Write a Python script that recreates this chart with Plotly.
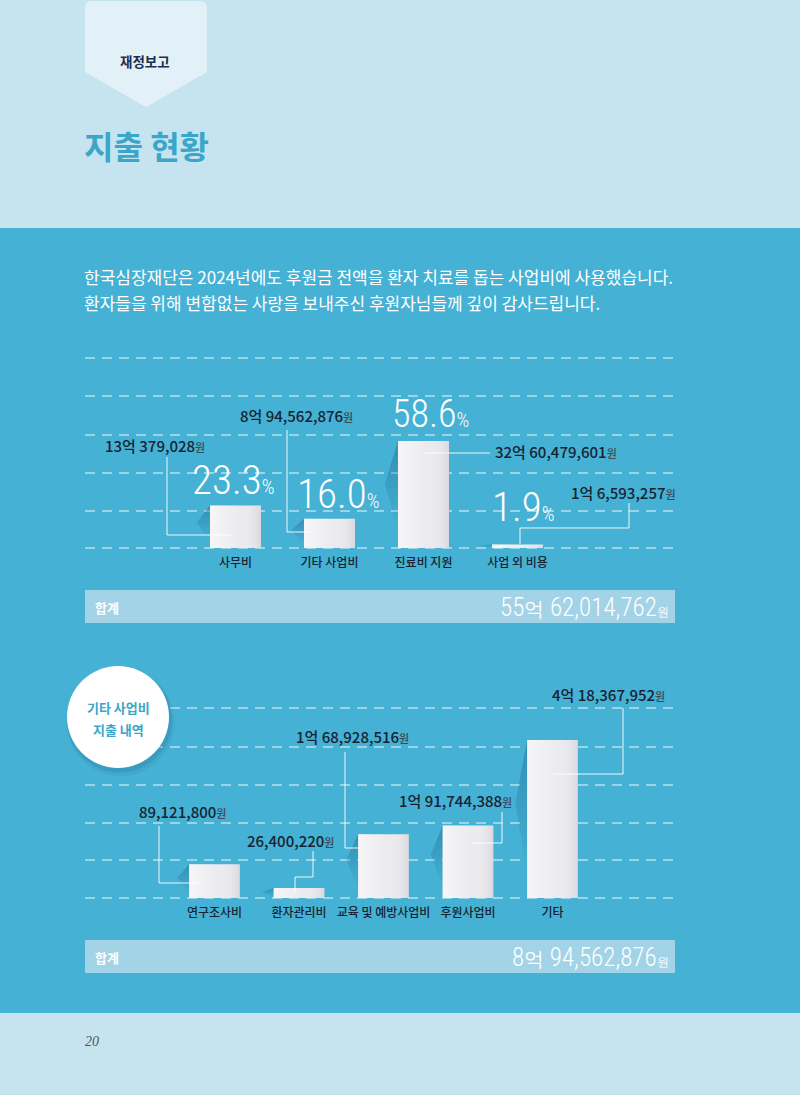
import plotly.graph_objects as go

W, H = 800, 1095


def X(px):
    return px / W


def Y(py):
    return 1 - py / H


# ---------------- data ----------------
section_tag = "재정보고"
title_text = "지출 현황"
intro_lines = [
    "한국심장재단은 2024년에도 후원금 전액을 환자 치료를 돕는 사업비에 사용했습니다.",
    "환자들을 위해 변함없는 사랑을 보내주신 후원자님들께 깊이 감사드립니다.",
]

cats1 = ["사무비", "기타 사업비", "진료비 지원", "사업 외 비용"]
pct1 = [23.3, 16.0, 58.6, 1.9]
won1 = [1300379028, 894562876, 3260479601, 106593257]

cats2 = ["연구조사비", "환자관리비", "교육 및 예방사업비", "후원사업비", "기타"]
won2 = [89121800, 26400220, 168928516, 191744388, 418367952]

total_label = "합계"
circle_lines = ["기타 사업비", "지출 내역"]
page_no = "20"

# ---------------- style ----------------
BLUE = "#45b1d4"
LIGHT = "#c6e3f0"
TAB = "#e2f1f8"
TOTAL = "#a3d3e6"
TEAL = "#3aa6c9"
DARK = "#172331"
BAR = "#ebebef"
KR = "Noto Sans CJK KR"
NARROW = "Roboto Condensed, Roboto, sans-serif"


def fmt_won(v):
    eok, rest = divmod(v, 10 ** 8)
    return f"{eok}억 {rest:,}" if eok else f"{rest:,}"


def won_label(v):
    return f"{fmt_won(v)}<span style='font-size:11px;color:#3b4a58'>원</span>"


fig = go.Figure()

BW1, BW2 = 0.543, 0.6


def add_bars(vals, bw, xa, ya):
    xs = list(range(len(vals)))
    # soft shadows on the left of each bar
    for i, v in zip(xs, vals):
        left = i - bw / 2
        k = 0.14
        fig.add_trace(go.Scatter(
            x=[left, left - k, left, left], y=[v, v * 0.6, v * 0.15, v],
            fill="toself", mode="lines", line=dict(width=0),
            fillcolor="rgba(25,95,135,0.25)",
            fillgradient=dict(type="vertical",
                              colorscale=[[0, "rgba(25,95,135,0)"], [1, "rgba(25,95,135,0.42)"]]),
            xaxis=xa, yaxis=ya, hoverinfo="skip", showlegend=False))
    fig.add_trace(go.Bar(x=xs, y=vals, width=bw, xaxis=xa, yaxis=ya,
                         marker=dict(color=BAR, line=dict(width=0)),
                         hoverinfo="skip", showlegend=False))
    # light horizontal sheen over each bar
    for i, v in zip(xs, vals):
        l, r = i - bw / 2, i + bw / 2
        fig.add_trace(go.Scatter(
            x=[l, r, r, l, l], y=[0, 0, v, v, 0],
            fill="toself", mode="lines", line=dict(width=0),
            fillcolor="rgba(255,255,255,0.2)",
            fillgradient=dict(type="horizontal",
                              colorscale=[[0, "rgba(255,255,255,0.55)"], [0.6, "rgba(255,255,255,0)"],
                                          [1, "rgba(150,150,165,0.22)"]]),
            xaxis=xa, yaxis=ya, hoverinfo="skip", showlegend=False))


add_bars(pct1, BW1, "x", "y")
add_bars(won2, BW2, "x2", "y2")

total1 = sum(won1)
total2 = sum(won2)

shapes = []
# backgrounds
shapes.append(dict(type="rect", xref="paper", yref="paper", x0=0, x1=1, y0=Y(228), y1=1,
                   fillcolor=LIGHT, line=dict(width=0), layer="below"))
shapes.append(dict(type="rect", xref="paper", yref="paper", x0=0, x1=1, y0=0, y1=Y(1013),
                   fillcolor=LIGHT, line=dict(width=0), layer="below"))


def P(pts):
    return "M " + " L ".join(f"{X(a):.5f},{Y(b):.5f}" for a, b in pts)


tab_path = (f"M {X(85):.5f},{Y(72):.5f} L {X(85):.5f},{Y(8):.5f} Q {X(85):.5f},{Y(1):.5f} {X(92):.5f},{Y(1):.5f} "
            f"L {X(200):.5f},{Y(1):.5f} Q {X(207):.5f},{Y(1):.5f} {X(207):.5f},{Y(8):.5f} "
            f"L {X(207):.5f},{Y(72):.5f} L {X(148):.5f},{Y(106):.5f} Q {X(146):.5f},{Y(108):.5f} {X(144):.5f},{Y(106):.5f} Z")
shapes.append(dict(type="path", xref="paper", yref="paper", path=tab_path,
                   fillcolor=TAB, line=dict(width=0), layer="below"))

# dashed guide lines
for gy in [358, 396, 435, 473, 511, 548, 708, 747, 785, 823, 860, 898]:
    shapes.append(dict(type="line", xref="paper", yref="paper", x0=X(85), x1=X(675), y0=Y(gy), y1=Y(gy),
                       line=dict(color="rgba(255,255,255,0.6)", width=1.5, dash="10px,7px"), layer="below"))

# totals boxes
for t0, t1 in [(590, 623), (940, 973)]:
    shapes.append(dict(type="rect", xref="paper", yref="paper", x0=X(85), x1=X(675), y0=Y(t1), y1=Y(t0),
                       fillcolor=TOTAL, line=dict(width=0), layer="below"))

# circle badge with soft shadow
for off, r, a in [(5, 54, 0.06), (3, 52.5, 0.10)]:
    shapes.append(dict(type="circle", xref="paper", yref="paper",
                       x0=X(118 + off / 2 - r), x1=X(118 + off / 2 + r), y0=Y(717 + off + r), y1=Y(717 + off - r),
                       fillcolor=f"rgba(0,50,80,{a})", line=dict(width=0)))
shapes.append(dict(type="circle", xref="paper", yref="paper", x0=X(67), x1=X(169), y0=Y(768), y1=Y(666),
                   fillcolor="white", line=dict(width=0)))

# leader lines
leaders = [
    [(167, 457), (167, 535), (232, 535)],
    [(287, 430), (287, 532), (310, 532)],
    [(425, 453), (490, 453)],
    [(629, 503), (629, 528), (520, 528), (520, 544)],
    [(159, 826), (159, 883), (200, 883)],
    [(313, 851), (313, 877), (295, 877), (295, 893)],
    [(345, 752), (345, 848), (365, 848)],
    [(502, 812), (502, 843), (472, 843)],
    [(623, 708), (623, 774), (553, 774)],
]
for pts in leaders:
    shapes.append(dict(type="path", xref="paper", yref="paper", path=P(pts),
                       line=dict(color="rgba(255,255,255,0.9)", width=1)))

ann = []


def A(text, x, y, size, color, family=KR, xanchor="left", weight=None, style=None):
    font = dict(family=family, size=size, color=color)
    if weight:
        font["weight"] = weight
    if style:
        font["style"] = style
    ann.append(dict(text=text, x=X(x), y=Y(y), xref="paper", yref="paper", showarrow=False,
                    xanchor=xanchor, yanchor="middle", font=font, borderpad=0))


A(section_tag, 145, 61, 13.5, "#1e2c4f", xanchor="center", weight=700)
A(title_text, 83, 145, 32, TEAL, weight=700)
A(intro_lines[0], 83, 276, 17, "white")
A(intro_lines[1], 83, 303, 17, "white")

# chart 1 labels
amt_pos1 = [(104, 446), (239, 415), (494, 452), (570, 493)]
pct_pos1 = [(191, 480), (296, 494), (391, 414), (491, 507)]
pct_size1 = [41, 41, 38, 41]
for v, p, (ax_, ay_), (px_, py_), s in zip(won1, pct1, amt_pos1, pct_pos1, pct_size1):
    A(won_label(v), ax_, ay_, 15, DARK, weight=500)
    A(f"{p:.1f}<span style='font-size:20px'>%</span>", px_, py_, s, "white", family=NARROW, weight=300)

# chart 2 labels
amt_pos2 = [(138, 811), (246, 840), (295, 736), (398, 800), (551, 694)]
for v, (ax_, ay_) in zip(won2, amt_pos2):
    A(won_label(v), ax_, ay_, 15, DARK, weight=500)

# totals
for ty, tv in [(607, total1), (957, total2)]:
    A(total_label, 94, ty, 13, "white", weight=700)
    eok, rest = divmod(tv, 10 ** 8)
    A(f"{eok}<span style='font-size:20px'>억</span> {rest:,}<span style='font-size:12px'>원</span>",
      670, ty, 25, "white", family=NARROW, xanchor="right", weight=300)

A(circle_lines[0], 118, 707, 13, TEAL, xanchor="center", weight=700)
A(circle_lines[1], 118, 729, 13, TEAL, xanchor="center", weight=700)

A(page_no, 84, 1041, 14, "#4a5663", family="Liberation Serif, DejaVu Serif, serif", style="italic")

common_x = dict(showgrid=False, zeroline=False, showline=False, ticks="outside", ticklen=4,
                tickcolor="rgba(0,0,0,0)", tickangle=0, fixedrange=True,
                tickfont=dict(family=KR, size=12, color=DARK, weight=500))

fig.update_layout(
    width=W, height=H, autosize=False,
    margin=dict(l=0, r=0, t=0, b=0, pad=0),
    paper_bgcolor=BLUE, plot_bgcolor="rgba(0,0,0,0)",
    showlegend=False,
    xaxis=dict(domain=[X(188.5), X(564.5)], range=[-0.5, 3.5], tickvals=list(range(len(cats1))),
               ticktext=cats1, anchor="y", **common_x),
    yaxis=dict(domain=[Y(548), Y(358)], range=[0, 104], visible=False, anchor="x", fixedrange=True),
    xaxis2=dict(domain=[X(172.25), X(594.75)], range=[-0.5, 4.5], tickvals=list(range(len(cats2))),
                ticktext=cats2, anchor="y2", **common_x),
    yaxis2=dict(domain=[Y(898), Y(708)], range=[0, 5.03e8], visible=False, anchor="x2", fixedrange=True),
    shapes=shapes,
    annotations=ann,
)

fig.write_html("out.html", config={"displayModeBar": False})
